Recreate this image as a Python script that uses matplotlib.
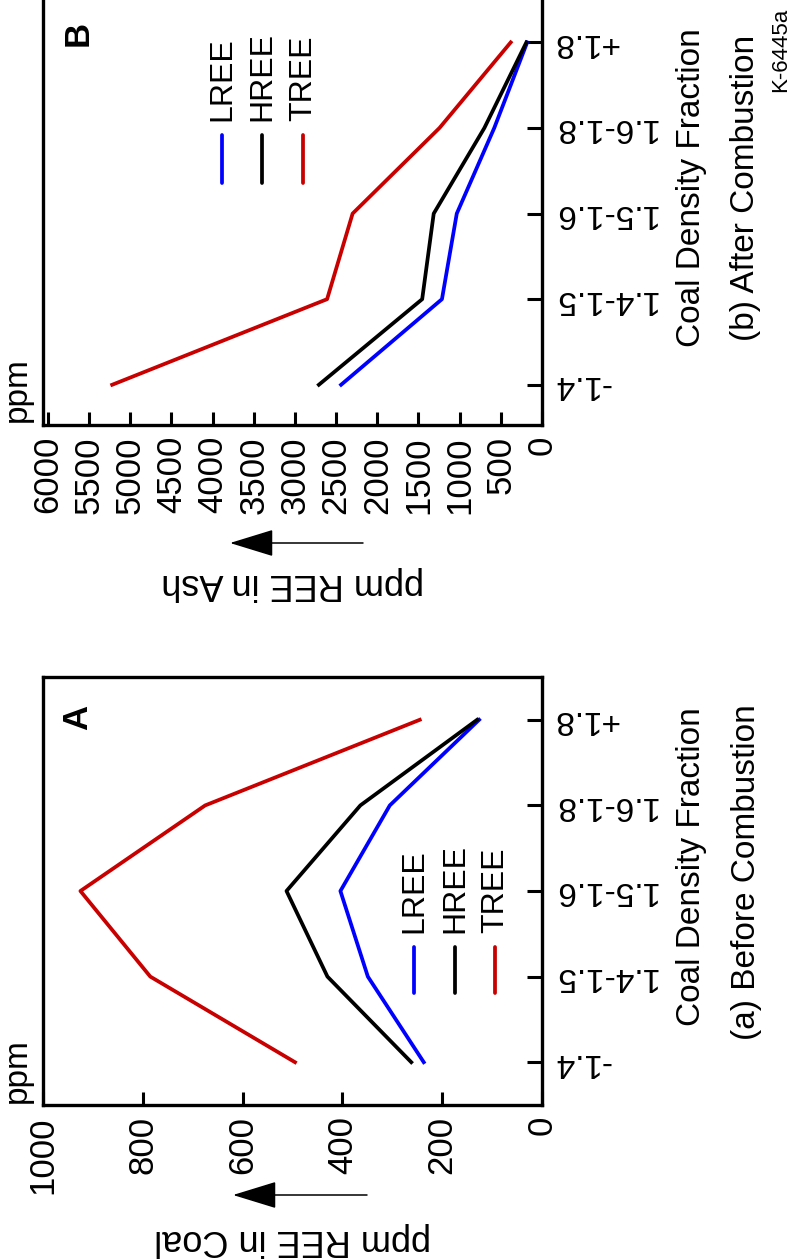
import numpy as np
import matplotlib.pyplot as plt
from matplotlib.lines import Line2D

plt.rcParams['font.family'] = ['Liberation Sans', 'DejaVu Sans']

# density fractions
categories = ['-1.4', '1.4-1.5', '1.5-1.6', '1.6-1.8', '+1.8']

# (a) before combustion, ppm in coal
coal_lree = [237, 349, 404, 305, 126]
coal_hree = [262, 430, 512, 364, 130]
coal_tree = [495, 785, 925, 675, 245]
coal_ticks = [0, 200, 400, 600, 800, 1000]

# (b) after combustion, ppm in ash
ash_lree = [2440, 1215, 1035, 580, 180]
ash_hree = [2710, 1455, 1315, 700, 190]
ash_tree = [5220, 2610, 2300, 1245, 380]
ash_ticks = [0, 500, 1000, 1500, 2000, 2500, 3000, 3500, 4000, 4500, 5000, 5500, 6000]

series_names = ['LREE', 'HREE', 'TREE']
colors = ['#0000ff', '#000000', '#c80000']

W, H = 789, 1260
fig = plt.figure(figsize=(W / 100, H / 100), dpi=100)


def fx(px):
    return px / W


def fy(py):
    return 1 - py / H


def panel(top, bottom, ylim, xmax, ticks, series):
    ax = fig.add_axes([fx(43), fy(bottom), (542 - 43) / W, (bottom - top) / H])
    pos = np.arange(len(categories))
    for vals, c in zip(series, colors):
        ax.plot(vals, pos, color=c, lw=2.7)
    ax.set_xlim(xmax, 0)
    ax.set_ylim(*ylim)
    ax.set_xticks(ticks)
    ax.set_xticklabels([str(t) for t in ticks])
    ax.yaxis.tick_right()
    ax.set_yticks(pos)
    ax.set_yticklabels(categories, rotation=180, va='center', ha='left')
    ax.tick_params(axis='x', direction='in', length=9.5, width=2.2,
                   labelsize=25, pad=8, labelrotation=90)
    ax.tick_params(axis='y', direction='in', length=10.5, width=2.2,
                   labelsize=24, pad=8)
    for s in ax.spines.values():
        s.set_linewidth(2.4)
    return ax


def legend(xs, y_top, y_bot):
    for x, name, c in zip(xs, series_names, colors):
        fig.add_artist(Line2D([fx(x), fx(x)], [fy(y_top), fy(y_bot)],
                              color=c, lw=2.7, solid_capstyle='round'))
        fig.text(fx(x), fy(y_top - 14), name, rotation=90, fontsize=23,
                 ha='center', va='bottom')


def arrow(x0, x1, y):
    fig.add_artist(plt.matplotlib.patches.FancyArrowPatch(
        (fx(x0), fy(y)), (fx(x1), fy(y)), transform=fig.transFigure,
        arrowstyle='-|>,head_length=2.8,head_width=0.86', mutation_scale=10,
        lw=1.1, color='black', shrinkA=0, shrinkB=0))


# panel A
axA = panel(677, 1105, (-0.5, 4.5), 1000, coal_ticks, [coal_lree, coal_hree, coal_tree])
legend([414, 455, 495], 947, 993)
fig.text(fx(78), fy(717), 'A', rotation=90, fontsize=25, fontweight='bold',
         ha='center', va='center')
fig.text(fx(26), fy(1103), 'ppm', rotation=90, fontsize=24,
         rotation_mode='anchor', ha='left', va='baseline')
fig.text(fx(700), fy(867), 'Coal Density Fraction', rotation=90, fontsize=24,
         rotation_mode='anchor', ha='center', va='baseline')
fig.text(fx(755), fy(872), '(a) Before Combustion', rotation=90, fontsize=24,
         rotation_mode='anchor', ha='center', va='baseline')
fig.text(fx(293), fy(1240), 'ppm REE in Coal', rotation=180, fontsize=26,
         ha='center', va='center')
arrow(367, 233, 1195)

# panel B
axB = panel(-3, 425, (-0.47, 4.53), 6060, ash_ticks, [ash_lree, ash_hree, ash_tree])
legend([222, 262, 303], 135, 183)
fig.text(fx(78), fy(33), 'B', rotation=90, fontsize=25, fontweight='bold',
         ha='center', va='center')
fig.text(fx(26), fy(422), 'ppm', rotation=90, fontsize=24,
         rotation_mode='anchor', ha='left', va='baseline')
fig.text(fx(700), fy(188), 'Coal Density Fraction', rotation=90, fontsize=24,
         rotation_mode='anchor', ha='center', va='baseline')
fig.text(fx(754), fy(188), '(b) After Combustion', rotation=90, fontsize=24,
         rotation_mode='anchor', ha='center', va='baseline')
fig.text(fx(293), fy(583), 'ppm REE in Ash', rotation=180, fontsize=26,
         ha='center', va='center')
arrow(363, 230, 543)

fig.text(fx(781), fy(50), 'K-6445a', rotation=90, fontsize=16,
         ha='center', va='center')

fig.savefig('out.png', dpi=100)
